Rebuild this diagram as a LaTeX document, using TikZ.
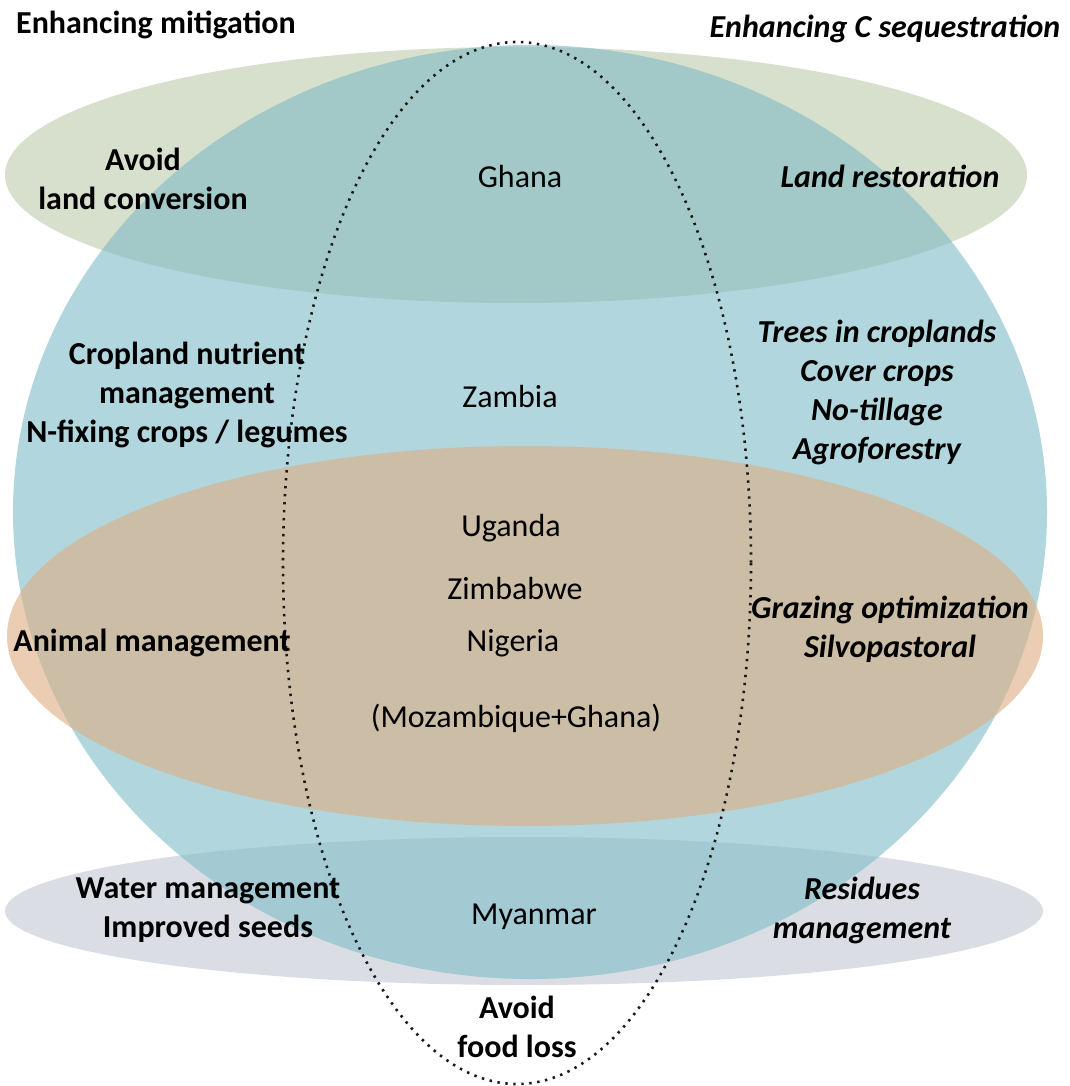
\documentclass[tikz,border=0pt]{standalone}
\usepackage{fontspec}
\setmainfont{Carlito}
\usepackage{tikz}
\usetikzlibrary{shapes.geometric}

\definecolor{landgreen}{RGB}{215,223,205}
\definecolor{foodgrey}{RGB}{218,222,228}
\definecolor{cropblue}{RGB}{127,187,198}
\definecolor{animalorange}{RGB}{222,172,130}

\begin{document}
\begin{tikzpicture}[x=1pt, y=-1pt,
    set/.style={ellipse, inner sep=0pt, outer sep=0pt},
    txt/.style={align=center, font=\fontsize{32}{39}\selectfont},
    mit/.style={txt, font=\fontsize{32}{39}\selectfont\bfseries},
    seq/.style={txt, font=\fontsize{32}{39}\selectfont\bfseries\itshape}]

    \useasboundingbox (0,0) rectangle (1069,1086);

    % Sets under the big circle
    \node[set, fill=landgreen, minimum width=1022pt, minimum height=256pt] (land) at (516,175) {};
    \node[set, fill=foodgrey, minimum width=1038pt, minimum height=148pt] (food) at (524,911) {};

    % Big circle and animal set
    \node[set, fill=cropblue, fill opacity=0.6, minimum width=1034pt, minimum height=934pt] (crop) at (530,512) {};
    \node[set, fill=animalorange, fill opacity=0.6, minimum width=1036pt, minimum height=380pt] (animal) at (525,636) {};

    % Countries
    \draw[black!90, line width=2.6pt, dash pattern=on 2.4pt off 5.6pt] (517,563) ellipse [x radius=234, y radius=521];

    % Headings
    \node[mit] (hmit) at (156,25) {Enhancing mitigation};
    \node[seq] (hseq) at (885,29) {Enhancing C sequestration};

    % Mitigation options
    \node[mit] (avoidland) at (143,179) {Avoid\\land conversion};
    \node[mit] (nutrient) at (187,395) {Cropland nutrient\\management\\N-fixing crops / legumes};
    \node[mit] (animalmgmt) at (152,643) {Animal management};
    \node[mit] (water) at (208,910) {Water management\\Improved seeds};
    \node[mit] (avoidfood) at (517,1027) {Avoid\\food loss};

    % Sequestration options
    \node[seq] (restoration) at (890,176) {Land restoration};
    \node[seq] (trees) at (877,392) {Trees in croplands\\Cover crops\\No-tillage\\Agroforestry};
    \node[seq] (grazing) at (890,629) {Grazing optimization\\Silvopastoral};
    \node[seq] (residues) at (862,910) {Residues\\management};

    % Countries
    \node[txt] (ghana) at (520,177) {Ghana};
    \node[txt] (zambia) at (510,397) {Zambia};
    \node[txt] (uganda) at (511,528) {Uganda};
    \node[txt] (zimbabwe) at (515,589) {Zimbabwe};
    \node[txt] (nigeria) at (513,643) {Nigeria};
    \node[txt] (mozghana) at (516,718) {(Mozambique+Ghana)};
    \node[txt] (myanmar) at (534,917) {Myanmar};
\end{tikzpicture}
\end{document}
